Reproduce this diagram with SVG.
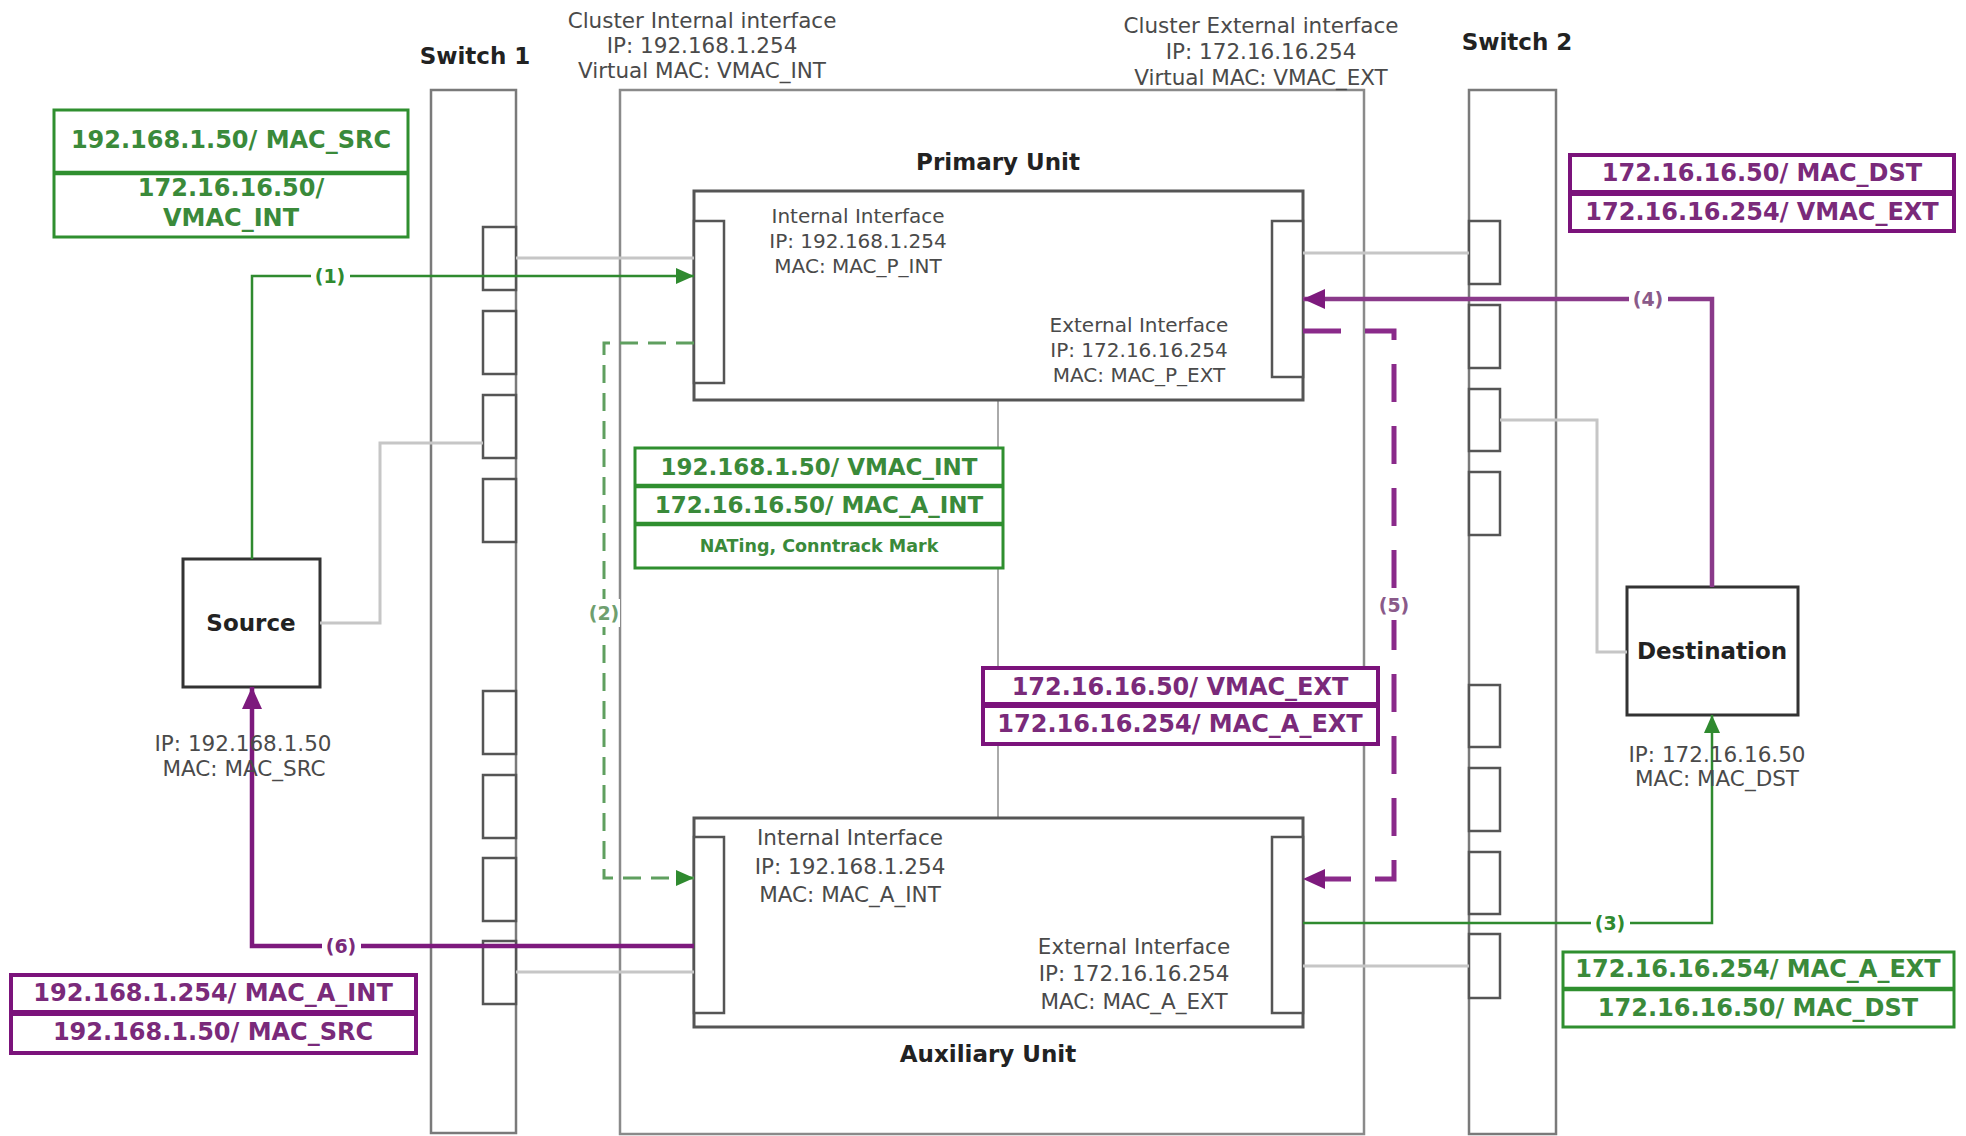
<svg xmlns="http://www.w3.org/2000/svg" width="1966" height="1136" viewBox="0 0 1966 1136">
<style>
.bg{fill:#fff}
.sw{fill:#fff;stroke:#7a7a7a;stroke-width:2.5}
.cl{fill:#fff;stroke:#8a8a8a;stroke-width:2.5}
.port{fill:#fff;stroke:#555;stroke-width:2.5}
.unit{fill:#fff;stroke:#555;stroke-width:3}
.node{fill:#fff;stroke:#333;stroke-width:3}
.gl{fill:none;stroke:#c6c6c6;stroke-width:3}
.vl{fill:none;stroke:#aaa;stroke-width:2}
.g1{fill:none;stroke:#2f8a2f;stroke-width:2.5}
.gd{fill:none;stroke:#5f9f5f;stroke-width:3;stroke-dasharray:18 10}
.p1{fill:none;stroke:#7d1a7d;stroke-width:4.5}
.p4{fill:none;stroke:#8a3a8a;stroke-width:4.5}
.pd{fill:none;stroke:#8a2a8a;stroke-width:5;stroke-dasharray:38 24}
.gbox{fill:#fff;stroke:#2f8f2f;stroke-width:3}
.gdiv{stroke:#2f8f2f;stroke-width:4.5}
.pbox{fill:#fff;stroke:#7b137b;stroke-width:4}
.pdiv{stroke:#7b137b;stroke-width:6}
text{font-family:"DejaVu Sans",Verdana,sans-serif;dominant-baseline:central;text-anchor:middle}
.t{fill:#4a4a4a;font-size:20px}
.t2{fill:#4a4a4a;font-size:21.5px}
.h{fill:#222;font-size:23px;font-weight:bold}
.gt{fill:#3a8a3a;font-size:24px;font-weight:bold}
.gs{fill:#3a8a3a;font-size:17.5px;font-weight:bold}
.pt{fill:#7a2a7a;font-size:24px;font-weight:bold}
.lg{fill:#2f8a2f;font-size:19px;font-weight:bold}
.lg2{fill:#6f9f6f;font-size:19px;font-weight:bold}
.lp{fill:#7a2a7a;font-size:19px;font-weight:bold}
.lp2{fill:#8a5a8a;font-size:19px;font-weight:bold}
</style>
<defs>
<marker id="ag" markerUnits="userSpaceOnUse" markerWidth="18" markerHeight="16" refX="18" refY="8" orient="auto"><path d="M0,0 L18,8 L0,16 z" fill="#2f8a2f"/></marker>
<marker id="ap" markerUnits="userSpaceOnUse" markerWidth="22" markerHeight="20" refX="22" refY="10" orient="auto"><path d="M0,0 L22,10 L0,20 z" fill="#7d1a7d"/></marker>
</defs>
<rect class="bg" x="0" y="0" width="1966" height="1136"/>

<g id="cluster">
<rect class="cl" x="620" y="90" width="744" height="1044"/>
<text class="t2" x="702" y="20">Cluster Internal interface</text>
<text class="t2" x="702" y="45">IP: 192.168.1.254</text>
<text class="t2" x="702" y="70">Virtual MAC: VMAC_INT</text>
<text class="t2" x="1261" y="25">Cluster External interface</text>
<text class="t2" x="1261" y="51">IP: 172.16.16.254</text>
<text class="t2" x="1261" y="77">Virtual MAC: VMAC_EXT</text>
<line class="vl" x1="998" y1="400" x2="998" y2="818"/>
</g>

<g id="switch1">
<rect class="sw" x="431" y="90" width="85" height="1043"/>
<rect class="port" x="483" y="227" width="33" height="63"/>
<rect class="port" x="483" y="311" width="33" height="63"/>
<rect class="port" x="483" y="395" width="33" height="63"/>
<rect class="port" x="483" y="479" width="33" height="63"/>
<rect class="port" x="483" y="691" width="33" height="63"/>
<rect class="port" x="483" y="775" width="33" height="63"/>
<rect class="port" x="483" y="858" width="33" height="63"/>
<rect class="port" x="483" y="941" width="33" height="63"/>
<text class="h" x="475" y="56">Switch 1</text>
</g>

<g id="switch2">
<rect class="sw" x="1469" y="90" width="87" height="1044"/>
<rect class="port" x="1469" y="221" width="31" height="63"/>
<rect class="port" x="1469" y="305" width="31" height="63"/>
<rect class="port" x="1469" y="389" width="31" height="62"/>
<rect class="port" x="1469" y="472" width="31" height="63"/>
<rect class="port" x="1469" y="685" width="31" height="62"/>
<rect class="port" x="1469" y="768" width="31" height="63"/>
<rect class="port" x="1469" y="852" width="31" height="62"/>
<rect class="port" x="1469" y="934" width="31" height="64"/>
<text class="h" x="1517" y="42">Switch 2</text>
</g>

<g id="primary">
<text class="h" x="998" y="162">Primary Unit</text>
<rect class="unit" x="694" y="191" width="609" height="209"/>
<rect class="port" x="694" y="221" width="30" height="162"/>
<rect class="port" x="1272" y="221" width="31" height="156"/>
<text class="t" x="858" y="216">Internal Interface</text>
<text class="t" x="858" y="241">IP: 192.168.1.254</text>
<text class="t" x="858" y="266">MAC: MAC_P_INT</text>
<text class="t" x="1139" y="325">External Interface</text>
<text class="t" x="1139" y="350">IP: 172.16.16.254</text>
<text class="t" x="1139" y="375">MAC: MAC_P_EXT</text>
</g>

<g id="auxiliary">
<rect class="unit" x="694" y="818" width="609" height="209"/>
<rect class="port" x="694" y="837" width="30" height="176"/>
<rect class="port" x="1272" y="837" width="31" height="176"/>
<text class="t2" x="850" y="837">Internal Interface</text>
<text class="t2" x="850" y="866">IP: 192.168.1.254</text>
<text class="t2" x="850" y="894">MAC: MAC_A_INT</text>
<text class="t2" x="1134" y="946">External Interface</text>
<text class="t2" x="1134" y="973">IP: 172.16.16.254</text>
<text class="t2" x="1134" y="1001">MAC: MAC_A_EXT</text>
<text class="h" x="988" y="1054">Auxiliary Unit</text>
</g>

<g id="source">
<rect class="node" x="183" y="559" width="137" height="128"/>
<text class="h" x="251" y="623">Source</text>
</g>

<g id="destination">
<rect class="node" x="1627" y="587" width="171" height="128"/>
<text class="h" x="1712" y="651">Destination</text>
</g>

<g id="connectors">
<polyline class="gl" points="516,258 694,258"/>
<polyline class="gl" points="320,623 380,623 380,443 483,443"/>
<polyline class="gl" points="516,972 694,972"/>
<polyline class="gl" points="1303,253 1469,253"/>
<polyline class="gl" points="1303,966 1469,966"/>
<polyline class="gl" points="1500,420 1597,420 1597,652 1627,652"/>

<polyline class="g1" points="252,559 252,276 694,276" marker-end="url(#ag)"/>
<polyline class="gd" points="694,343 604,343 604,878 694,878" marker-end="url(#ag)"/>
<polyline class="g1" points="1303,923 1712,923 1712,715" marker-end="url(#ag)"/>
<polyline class="p4" points="1712,587 1712,299 1303,299" marker-end="url(#ap)"/>
<polyline class="pd" points="1303,331 1394,331 1394,879 1303,879" marker-end="url(#ap)"/>
<polyline class="p1" points="694,946 252,946 252,687" marker-end="url(#ap)"/>

<rect class="bg" x="311" y="265" width="39" height="22"/>
<text class="lg" x="330" y="276">(1)</text>
<rect class="bg" x="588" y="599" width="32" height="28"/>
<text class="lg2" x="604" y="613">(2)</text>
<rect class="bg" x="1591" y="912" width="39" height="22"/>
<text class="lg" x="1610" y="923">(3)</text>
<rect class="bg" x="1629" y="288" width="39" height="22"/>
<text class="lp2" x="1648" y="299">(4)</text>
<rect class="bg" x="1377" y="590" width="34" height="30"/>
<text class="lp2" x="1394" y="605">(5)</text>
<rect class="bg" x="322" y="935" width="39" height="22"/>
<text class="lp" x="341" y="946">(6)</text>
</g>

<g id="src-info">
<text class="t2" x="243" y="743">IP: 192.168.1.50</text>
<text class="t2" x="244" y="768">MAC: MAC_SRC</text>
</g>
<g id="dst-info">
<text class="t2" x="1717" y="754">IP: 172.16.16.50</text>
<text class="t2" x="1717" y="778">MAC: MAC_DST</text>
</g>

<g id="box-step1">
<rect class="gbox" x="54" y="110" width="354" height="127"/>
<line class="gdiv" x1="54" y1="173" x2="408" y2="173"/>
<text class="gt" x="231" y="140">192.168.1.50/ MAC_SRC</text>
<text class="gt" x="231" y="188">172.16.16.50/</text>
<text class="gt" x="231" y="218">VMAC_INT</text>
</g>

<g id="box-step2">
<rect class="gbox" x="635" y="448" width="368" height="120"/>
<line class="gdiv" x1="635" y1="486" x2="1003" y2="486"/>
<line class="gdiv" x1="635" y1="524" x2="1003" y2="524"/>
<text class="gt" x="819" y="467" style="font-size:23px">192.168.1.50/ VMAC_INT</text>
<text class="gt" x="819" y="505" style="font-size:23px">172.16.16.50/ MAC_A_INT</text>
<text class="gs" x="819" y="546">NATing, Conntrack Mark</text>
</g>

<g id="box-step5">
<rect class="pbox" x="983" y="668" width="395" height="76"/>
<line class="pdiv" x1="983" y1="705" x2="1378" y2="705"/>
<text class="pt" x="1180" y="687">172.16.16.50/ VMAC_EXT</text>
<text class="pt" x="1180" y="724">172.16.16.254/ MAC_A_EXT</text>
</g>

<g id="box-step4">
<rect class="pbox" x="1570" y="155" width="384" height="76"/>
<line class="pdiv" x1="1570" y1="193" x2="1954" y2="193"/>
<text class="pt" x="1762" y="173">172.16.16.50/ MAC_DST</text>
<text class="pt" x="1762" y="212">172.16.16.254/ VMAC_EXT</text>
</g>

<g id="box-step3">
<rect class="gbox" x="1563" y="952" width="391" height="75"/>
<line class="gdiv" x1="1563" y1="989" x2="1954" y2="989"/>
<text class="gt" x="1758" y="969">172.16.16.254/ MAC_A_EXT</text>
<text class="gt" x="1758" y="1008">172.16.16.50/ MAC_DST</text>
</g>

<g id="box-step6">
<rect class="pbox" x="11" y="975" width="405" height="78"/>
<line class="pdiv" x1="11" y1="1013" x2="416" y2="1013"/>
<text class="pt" x="213" y="993">192.168.1.254/ MAC_A_INT</text>
<text class="pt" x="213" y="1032">192.168.1.50/ MAC_SRC</text>
</g>
</svg>
